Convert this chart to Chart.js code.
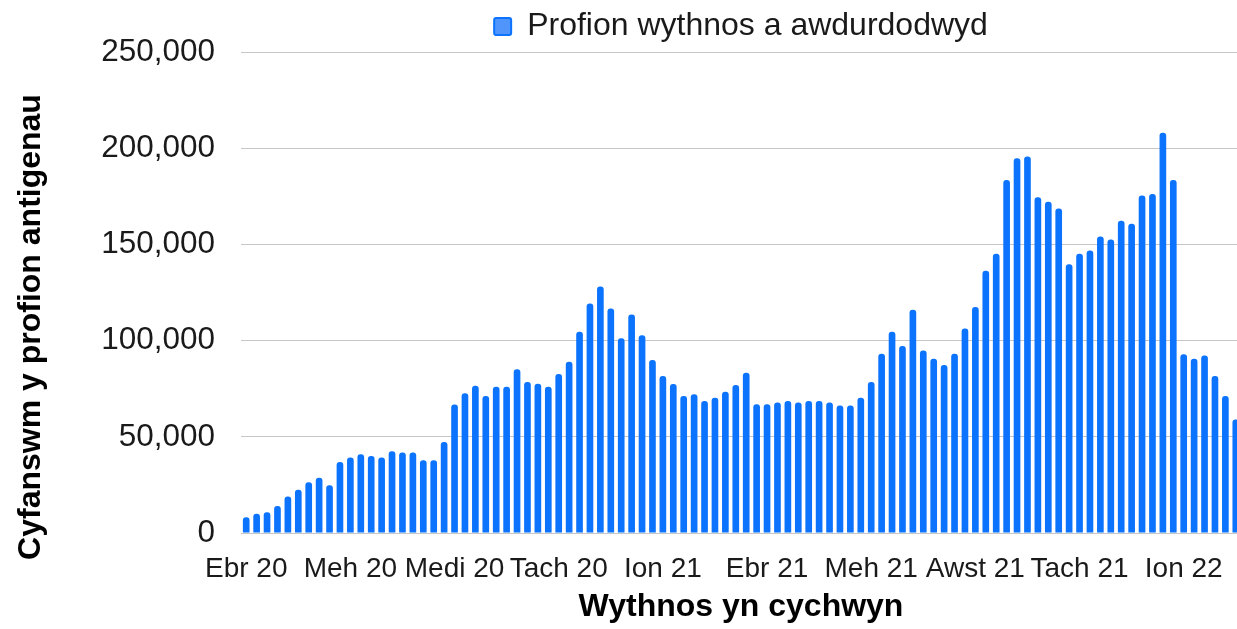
<!DOCTYPE html>
<html>
<head>
<meta charset="utf-8">
<title>Profion wythnos a awdurdodwyd</title>
<script src="https://cdn.jsdelivr.net/npm/chart.js@4.4.1/dist/chart.umd.min.js"></script>
<style>
  html, body { margin: 0; padding: 0; background: #fff; overflow: hidden; }
  /* the last bar is cut by the right edge in the original, so the chart is a bit wider than the window */
  #wrap { position: relative; width: 1241px; height: 629px; }
</style>
</head>
<body>
<div id="wrap"><canvas id="chart"></canvas></div>
<script>
// Monday of the first week shown
const firstWeek = '2020-04-20';

const tickLabels = ['Ebr 20', 'Meh 20', 'Medi 20', 'Tach 20', 'Ion 21', 'Ebr 21', 'Meh 21', 'Awst 21', 'Tach 21', 'Ion 22'];
const tickEvery = 10;

const seriesName = 'Profion wythnos a awdurdodwyd';
const xTitle = 'Wythnos yn cychwyn';
const yTitle = 'Cyfanswm y profion antigenau';

// weekly authorised tests
const weeklyTests = [
    8250, 10000, 10850, 14000, 19050, 22550, 26350, 28800, 24800, 36950,
    39250, 41000, 40100, 39250, 42550, 41850, 41850, 37850, 37850, 47400,
    66900, 72650, 76600, 71250, 76100, 76100, 85200, 78550, 77700, 76100,
    82750, 89150, 104650, 119450, 128300, 116850, 101350, 113700, 102900, 90050,
    81700, 77500, 71250, 72150, 68650, 70350, 73500, 77000, 83400, 67050,
    67050, 67950, 68650, 67950, 68650, 68650, 67950, 66400, 66400, 70350,
    78550, 93200, 104650, 97350, 116150, 94900, 90700, 87450, 93200, 106400,
    117550, 136500, 145350, 183650, 194950, 195850, 174750, 172350, 168850, 139800,
    145350, 146950, 154250, 152700, 162450, 160850, 175650, 176350, 208200, 183650,
    93000, 90700, 92300, 81700, 71250, 59100
];

const yMax = 250000;
const yStep = 50000;

const barBlue = '#0b73fd';
const fontFamily = 'Arial, "Liberation Sans", Helvetica, sans-serif';

// one category per week, dd/mm/yyyy
const weekStarts = weeklyTests.map((_, i) => {
    const d = new Date(firstWeek + 'T00:00:00Z');
    d.setUTCDate(d.getUTCDate() + i * 7);
    return d.toISOString().slice(0, 10).split('-').reverse().join('/');
});

// Google-style axis title: centred on the whole chart height rather than the axis
const yTitlePlugin = {
    id: 'yTitle',
    afterDraw(chart) {
        const ctx = chart.ctx;
        ctx.save();
        ctx.translate(31, 327);
        ctx.rotate(-Math.PI / 2);
        ctx.font = 'bold 32px ' + fontFamily;
        ctx.fillStyle = '#000';
        ctx.textAlign = 'center';
        ctx.textBaseline = 'middle';
        ctx.fillText(yTitle, 0, 0);
        ctx.restore();
    }
};

Chart.defaults.font.family = fontFamily;
Chart.defaults.color = '#1a1a1a';

new Chart(document.getElementById('chart'), {
    type: 'bar',
    data: {
        labels: weekStarts,
        datasets: [
            {
                label: seriesName,
                data: weeklyTests,
                backgroundColor: barBlue,
                borderRadius: 3,
                barPercentage: 0.64,
                categoryPercentage: 1,
            },
        ],
    },
    options: {
        responsive: true,
        maintainAspectRatio: false,
        animation: false,
        locale: 'en-US',
        layout: { padding: 0 },
        plugins: {
            tooltip: { enabled: false },
            legend: {
                position: 'top',
                fullSize: false,
                labels: {
                    font: { size: 32 },
                    color: '#1a1a1a',
                    boxWidth: 17,
                    boxHeight: 17,
                    padding: 10.5,
                    useBorderRadius: true,
                    borderRadius: 2,
                    generateLabels: (chart) =>
                        Chart.defaults.plugins.legend.labels.generateLabels(chart).map(item => ({
                            ...item,
                            fillStyle: '#4f95fc',
                            strokeStyle: barBlue,
                            lineWidth: 2,
                        })),
                },
            },
        },
        scales: {
            x: {
                grid: { display: false, drawTicks: false },
                border: { display: false },
                ticks: {
                    autoSkip: false,
                    maxRotation: 0,
                    minRotation: 0,
                    padding: 19,
                    font: { size: 28 },
                    color: '#1a1a1a',
                    callback: (value, index) => index % tickEvery === 0 ? tickLabels[index / tickEvery] : '',
                },
                title: {
                    display: true,
                    text: xTitle,
                    color: '#000',
                    font: { size: 32, weight: 'bold' },
                    padding: { top: 0, bottom: 3 },
                },
                afterFit: (axis) => {
                    axis.height = 96;
                    // bars run right up to the edges; no room kept for edge labels
                    axis.paddingLeft = 0;
                    axis.paddingRight = 0;
                },
            },
            y: {
                min: 0,
                max: yMax,
                grid: { color: '#c6c6c6', lineWidth: 1, drawTicks: false },
                border: { display: false },
                ticks: {
                    stepSize: yStep,
                    padding: 26,
                    font: { size: 31.5 },
                    color: '#1a1a1a',
                },
                afterFit: (axis) => { axis.width = 241; },
            },
        },
    },
    plugins: [yTitlePlugin],
});
</script>
</body>
</html>
